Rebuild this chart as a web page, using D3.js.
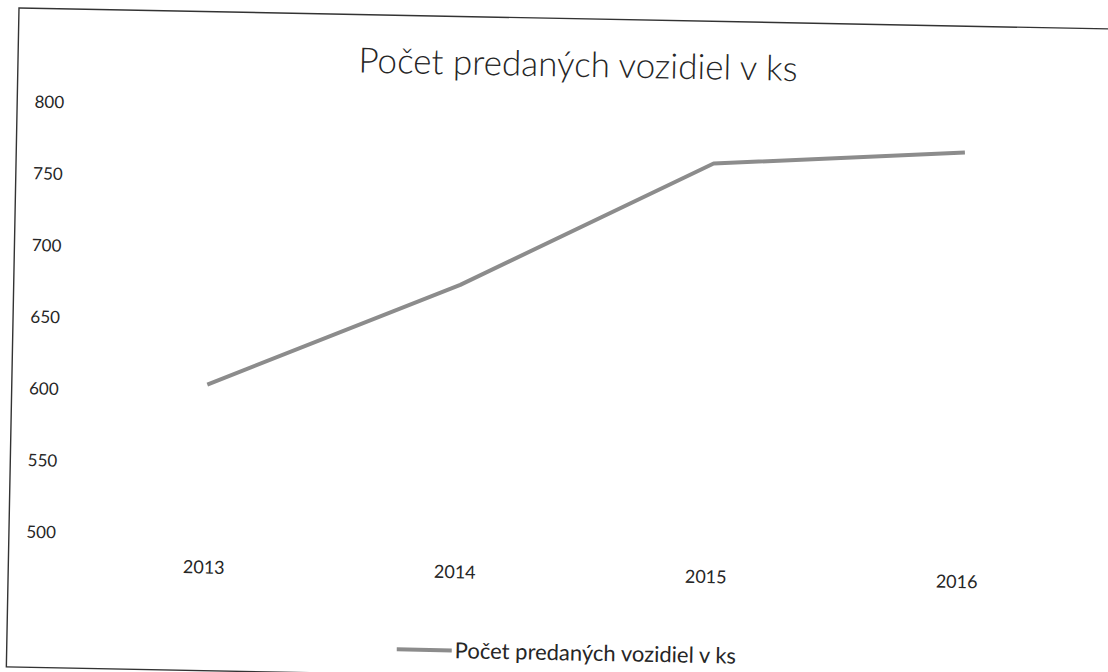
<!DOCTYPE html>
<html>
<head>
<meta charset="utf-8">
<script src="https://cdn.jsdelivr.net/npm/d3@7"></script>
<style>
  body { margin: 0; background: #fff; }
  svg text { font-family: Lato, "Open Sans", sans-serif; fill: #262626; }
</style>
</head>
<body>
<div id="chart"></div>
<script>
// data
const years = ["2013", "2014", "2015", "2016"];
const sold = [605, 678, 766, 777];
const yTicks = [500, 550, 600, 650, 700, 750, 800];
const chartTitle = "Počet predaných vozidiel v ks";
const seriesName = "Počet predaných vozidiel v ks";

const W = 1108, H = 672;
const svg = d3.select("#chart").append("svg")
    .attr("width", W)
    .attr("height", H);

// the scan is slightly skewed, so the whole chart is turned a bit
const page = svg.append("g")
    .attr("transform", "rotate(1.1, 19, 8)");

page.append("rect")
    .attr("x", 19).attr("y", 8)
    .attr("width", 1250).attr("height", 659)
    .attr("fill", "none")
    .attr("stroke", "#333")
    .attr("stroke-width", 1.4);

const x = d3.scaleBand()
    .domain(years)
    .range([89, 1093]);
const y = d3.scaleLinear()
    .domain([500, 800])
    .range([531.5, 101.4]);

const rows = years.map((d, i) => ({ year: d, value: sold[i] }));

// title
page.append("text")
    .attr("x", 579).attr("y", 66)
    .attr("text-anchor", "middle")
    .style("font-size", "35px")
    .style("font-weight", 300)
    .text(chartTitle);

// y axis, labels only
const yAxis = page.append("g")
    .attr("transform", "translate(70,0)")
    .call(d3.axisLeft(y).tickValues(yTicks).tickSize(0).tickPadding(4));
yAxis.select(".domain").remove();
yAxis.selectAll("text").style("font-size", "17px").style("font-family", null);

// x axis, labels only
const xAxis = page.append("g")
    .attr("transform", "translate(0,554)")
    .call(d3.axisBottom(x).tickSize(0).tickPadding(3));
xAxis.select(".domain").remove();
xAxis.selectAll("text").style("font-size", "18px").style("font-family", null);

// the series line
const line = d3.line()
    .x(d => x(d.year) + x.bandwidth() / 2)
    .y(d => y(d.value));

page.append("path")
    .datum(rows)
    .attr("fill", "none")
    .attr("stroke", "#8c8c8c")
    .attr("stroke-width", 4)
    .attr("stroke-linejoin", "round")
    .attr("d", line);

// legend
const legend = page.append("g").attr("transform", "translate(409,642)");
legend.append("line")
    .attr("x1", 0).attr("x2", 55)
    .attr("stroke", "#8c8c8c")
    .attr("stroke-width", 4);
legend.append("text")
    .attr("x", 58).attr("dy", "0.35em")
    .style("font-size", "22px")
    .text(seriesName);
</script>
</body>
</html>
